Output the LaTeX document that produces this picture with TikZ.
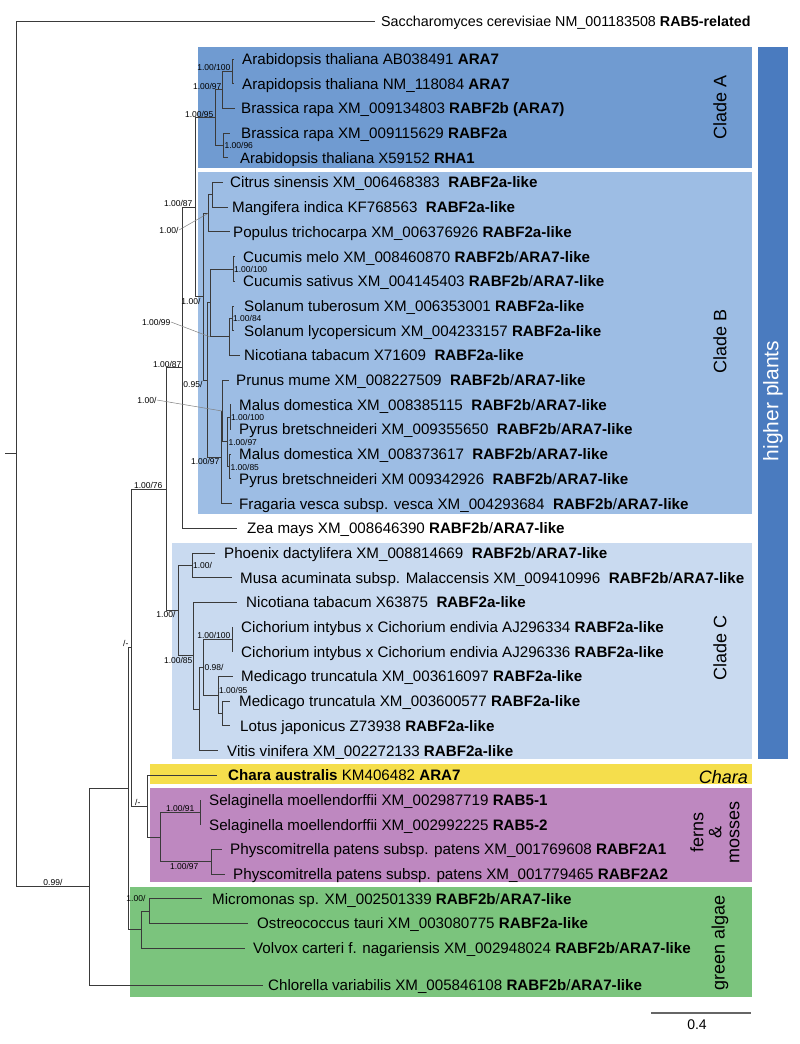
\documentclass[tikz,border=0pt]{standalone}
\usepackage{fontspec}
\setmainfont{Liberation Sans}
\usetikzlibrary{calc}
\definecolor{cA}{HTML}{709BD1}
\definecolor{cB}{HTML}{9DBDE4}
\definecolor{cC}{HTML}{C9DAF0}
\definecolor{cHP}{HTML}{4A7BBF}
\definecolor{cChara}{HTML}{F5DE4C}
\definecolor{cFern}{HTML}{BE88C0}
\definecolor{cGreen}{HTML}{7BC47D}
\definecolor{treec}{HTML}{3A3A3A}
\newcommand\mkleaf[6][15.15]{%
  \coordinate (#2) at (#3,#5);
  \node[leaf, font=\fontsize{#1}{17}\selectfont] (#2L) at (#4,#5+5.4) {#6};}
\newcommand\dsp{\ \ }
\begin{document}
\begin{tikzpicture}[x=1pt,y=-1pt,
  tree/.style={draw=treec, line width=0.9pt},
  ptr/.style={draw=gray, line width=0.5pt},
  leaf/.style={anchor=base west, inner sep=0pt},
  sup/.style={inner sep=0.4pt, font=\fontsize{8.5}{10}\selectfont},
  clade/.style={font=\fontsize{18}{18}\selectfont, inner sep=0pt}]
\useasboundingbox (0,0) rectangle (800,1044);
\fill[white] (0,0) rectangle (800,1044);
% coloured boxes
\fill[cA] (198,47) rectangle (752,168);
\fill[cB] (198,172) rectangle (752,514);
\fill[cC] (172,543) rectangle (752,759);
\fill[cChara] (150,764) rectangle (752,784);
\fill[cFern] (150,788) rectangle (752,882);
\fill[cGreen] (130,887) rectangle (752,997);
\fill[cHP] (758,47) rectangle (788,759);
% clade labels
\node[clade, rotate=90] (lA) at (720,107) {Clade A};
\node[clade, rotate=90] (lB) at (720,341) {Clade B};
\node[clade, rotate=90] (lC) at (720,648) {Clade C};
\node[clade, rotate=90, text=white, font=\fontsize{21}{21}\selectfont] (lHP) at (773,401) {higher plants};
\node[clade, anchor=base east, font=\fontsize{18}{18}\selectfont\itshape] (lCh) at (748,783.5) {Chara};
\node[clade, rotate=90, align=center] (lF) at (715,832) {ferns\\\&\\mosses};
\node[clade, rotate=90] (lG) at (720,943) {green algae};
% leaves
\mkleaf[14.3]{tSac}{375}{381}{21}{Saccharomyces cerevisiae NM\_001183508 \textbf{RAB5-related}}
\mkleaf{tAB}{234}{242}{59}{Arabidopsis thaliana AB038491 \textbf{ARA7}}
\mkleaf{tNM}{234}{242}{83.7}{Arapidopsis thaliana NM\_118084 \textbf{ARA7}}
\mkleaf{tBr1}{235}{241}{108.4}{Brassica rapa XM\_009134803 \textbf{RABF2b (ARA7)}}
\mkleaf{tBr2}{230}{241}{133.1}{Brassica rapa XM\_009115629 \textbf{RABF2a}}
\mkleaf[14.9]{tX59}{228}{240}{157.8}{Arabidopsis thaliana X59152 \textbf{RHA1}}
\mkleaf{tCit}{223}{230}{182.5}{Citrus sinensis XM\_006468383\dsp\textbf{RABF2a-like}}
\mkleaf{tMan}{228}{232}{207.2}{Mangifera indica KF768563\dsp\textbf{RABF2a-like}}
\mkleaf{tPop}{230}{233}{231.9}{Populus trichocarpa XM\_006376926 \textbf{RABF2a-like}}
\mkleaf{tCme}{235}{243}{256.6}{Cucumis melo XM\_008460870 \textbf{RABF2b}/\textbf{ARA7-like}}
\mkleaf{tCsa}{235}{243}{281.3}{Cucumis sativus XM\_004145403 \textbf{RABF2b}/\textbf{ARA7-like}}
\mkleaf{tStu}{234}{244}{306.0}{Solanum tuberosum XM\_006353001 \textbf{RABF2a-like}}
\mkleaf{tSly}{234}{244}{330.7}{Solanum lycopersicum XM\_004233157 \textbf{RABF2a-like}}
\mkleaf{tNiA}{240}{244}{355.4}{Nicotiana tabacum X71609\dsp\textbf{RABF2a-like}}
\mkleaf{tPru}{229}{236}{380.1}{Prunus mume XM\_008227509\dsp\textbf{RABF2b}/\textbf{ARA7-like}}
\mkleaf{tMaA}{231}{239}{404.8}{Malus domestica XM\_008385115\dsp\textbf{RABF2b}/\textbf{ARA7-like}}
\mkleaf{tPyA}{231}{239}{429.5}{Pyrus bretschneideri XM\_009355650\dsp\textbf{RABF2b}/\textbf{ARA7-like}}
\mkleaf{tMaB}{231}{239}{454.2}{Malus domestica XM\_008373617\dsp\textbf{RABF2b}/\textbf{ARA7-like}}
\mkleaf{tPyB}{231}{239}{478.9}{Pyrus bretschneideri XM 009342926\dsp\textbf{RABF2b}/\textbf{ARA7-like}}
\mkleaf{tFra}{232}{239}{503.6}{Fragaria vesca subsp. vesca XM\_004293684\dsp\textbf{RABF2b}/\textbf{ARA7-like}}
\mkleaf{tZea}{237}{247}{528.3}{Zea mays XM\_008646390 \textbf{RABF2b}/\textbf{ARA7-like}}
\mkleaf{tPho}{215}{224}{553.0}{Phoenix dactylifera XM\_008814669\dsp\textbf{RABF2b}/\textbf{ARA7-like}}
\mkleaf{tMus}{232}{240}{577.7}{Musa acuminata subsp. Malaccensis XM\_009410996\dsp\textbf{RABF2b}/\textbf{ARA7-like}}
\mkleaf{tNiB}{237}{246}{602.4}{Nicotiana tabacum X63875\dsp\textbf{RABF2a-like}}
\mkleaf{tCiA}{233}{241}{627.1}{Cichorium intybus x Cichorium endivia AJ296334 \textbf{RABF2a-like}}
\mkleaf{tCiB}{233}{241}{651.8}{Cichorium intybus x Cichorium endivia AJ296336 \textbf{RABF2a-like}}
\mkleaf{tMeA}{233}{241}{676.5}{Medicago truncatula XM\_003616097 \textbf{RABF2a-like}}
\mkleaf{tMeB}{230}{239}{701.2}{Medicago truncatula XM\_003600577 \textbf{RABF2a-like}}
\mkleaf{tLot}{230}{240}{725.9}{Lotus japonicus Z73938 \textbf{RABF2a-like}}
\mkleaf{tVit}{218}{227}{750.6}{Vitis vinifera XM\_002272133 \textbf{RABF2a-like}}
\mkleaf{tCha}{217}{228}{775.3}{\textbf{Chara australis} KM406482 \textbf{ARA7}}
\mkleaf{tSeA}{201}{209}{800.0}{Selaginella moellendorffii XM\_002987719 \textbf{RAB5-1}}
\mkleaf{tSeB}{201}{209}{824.7}{Selaginella moellendorffii XM\_002992225 \textbf{RAB5-2}}
\mkleaf[15.25]{tPhA}{222}{230}{849.4}{Physcomitrella patens subsp. patens XM\_001769608 \textbf{RABF2A1}}
\mkleaf[15.2]{tPhB}{225}{233}{874.1}{Physcomitrella patens subsp. patens XM\_001779465 \textbf{RABF2A2}}
\mkleaf{tMic}{202}{212}{898.8}{Micromonas sp. XM\_002501339 \textbf{RABF2b}/\textbf{ARA7-like}}
\mkleaf{tOst}{248}{257}{923.5}{Ostreococcus tauri XM\_003080775 \textbf{RABF2a-like}}
\mkleaf{tVol}{245}{253}{948.2}{Volvox carteri f. nagariensis XM\_002948024 \textbf{RABF2b}/\textbf{ARA7-like}}
\mkleaf{tChl}{263}{268}{985}{Chlorella variabilis XM\_005846108 \textbf{RABF2b}/\textbf{ARA7-like}}
% internal nodes
\coordinate (stem) at (5,453.9);
\coordinate (root) at (16,453.9);
\coordinate (R) at (89,886.85);
\coordinate (Q) at (128,788.7);
\coordinate (P) at (131,647.65);
\coordinate (ABC) at (166,489.15);
\coordinate (ABZ) at (182,367.8);
\coordinate (AB) at (195,207.25);
\coordinate (A) at (215,117.7);
\coordinate (a2) at (222,89.9);
\coordinate (a1) at (232,71.35);
\coordinate (a3) at (223,145.45);
\coordinate (B) at (203,296.8);
\coordinate (CMP) at (208,213.4);
\coordinate (CM) at (212,194.85);
\coordinate (N095) at (207,380.2);
\coordinate (CS) at (210,302.9);
\coordinate (Cuc) at (233,268.95);
\coordinate (SN) at (229,336.9);
\coordinate (Sol) at (232,318.35);
\coordinate (R2) at (221,457.3);
\coordinate (R1) at (222,411);
\coordinate (MP) at (227,441.85);
\coordinate (MP1) at (230,417.15);
\coordinate (MP2) at (229,466.55);
\coordinate (C) at (178,610.5);
\coordinate (PM) at (192,565.35);
\coordinate (C2) at (193,655.7);
\coordinate (C3) at (199,709);
\coordinate (CM2) at (203,667.4);
\coordinate (Cich) at (232,639.45);
\coordinate (Med) at (218,695);
\coordinate (Med23) at (222,713.55);
\coordinate (F0) at (147,806.2);
\coordinate (F1) at (160,837.05);
\coordinate (S) at (200,812.35);
\coordinate (Ph) at (211,861.75);
\coordinate (G2) at (141,929.7);
\coordinate (G1) at (149,911.15);
% branches
\draw[tree] (stem) -- (root);
\foreach \p/\c in {root/tSac, root/R, R/Q, R/tChl, Q/P, Q/G2, P/ABC, P/F0,
  ABC/ABZ, ABC/C, ABZ/AB, ABZ/tZea, AB/A, AB/B,
  A/a2, A/a3, a2/a1, a2/tBr1, a1/tAB, a1/tNM, a3/tBr2, a3/tX59,
  B/CMP, B/N095, CMP/CM, CMP/tPop, CM/tCit, CM/tMan,
  N095/CS, N095/R2, CS/Cuc, CS/SN, Cuc/tCme, Cuc/tCsa, SN/Sol, SN/tNiA, Sol/tStu, Sol/tSly,
  R2/R1, R2/tFra, R1/tPru, R1/MP, MP/MP1, MP/MP2, MP1/tMaA, MP1/tPyA, MP2/tMaB, MP2/tPyB,
  C/PM, C/C2, PM/tPho, PM/tMus, C2/tNiB, C2/C3, C3/CM2, C3/tVit, CM2/Cich, CM2/Med,
  Cich/tCiA, Cich/tCiB, Med/tMeA, Med/Med23, Med23/tMeB, Med23/tLot,
  F0/tCha, F0/F1, F1/S, F1/Ph, S/tSeA, S/tSeB, Ph/tPhA, Ph/tPhB,
  G2/G1, G2/tVol, G1/tMic, G1/tOst}
  {\draw[tree] (\p) |- (\c);}
% support values
\node[sup, anchor=south east] (sa1) at ($(a1)+(-1,0)$) {1.00/100};
\node[sup, anchor=south east] (sa2) at ($(a2)+(0,0)$) {1.00/97};
\node[sup, anchor=south east] (sA) at ($(A)+(-1,0)$) {1.00/95};
\node[sup, anchor=west] (sa3) at ($(a3)+(1,0.5)$) {1.00/96};
\node[sup, anchor=south east] (sAB) at ($(AB)+(-2,0)$) {1.00/87};
\node[sup, anchor=east] (sCMP) at (179,230) {1.00/};
\draw[ptr] (sCMP.east) -- (CMP);
\node[sup, anchor=north east] (sB) at ($(B)+(-2,0.7)$) {1.00/};
\node[sup, anchor=east] (sSN) at (171,322) {1.00/99};
\draw[ptr] (sSN.east) -- (CS |- SN);
\node[sup, anchor=west] (sCuc) at ($(Cuc)+(0.5,1)$) {1.00/100};
\node[sup, anchor=west] (sSol) at ($(Sol)+(0.5,0.6)$) {1.00/84};
\node[sup, anchor=north east] (sN095) at ($(N095)+(-4,0.8)$) {0.95/};
\node[sup, anchor=east] (sR1) at (157,400) {1.00/};
\draw[ptr] (sR1.east) -- (R1);
\node[sup, anchor=west] (sMP1) at ($(MP1)+(0.5,0)$) {1.00/100};
\node[sup, anchor=west] (sMP) at ($(MP)+(1,1)$) {1.00/97};
\node[sup, anchor=west] (sMP2) at ($(MP2)+(1,0.5)$) {1.00/85};
\node[sup, anchor=north east] (sR2) at ($(R2)+(-1,0.7)$) {1.00/97};
\node[sup, anchor=south east] (sABZ) at ($(ABZ)+(0,0)$) {1.00/87};
\node[sup, anchor=south east] (sABC) at ($(ABC)+(-3,0)$) {1.00/76};
\node[sup, anchor=north east] (sC) at ($(C)+(-2,0.5)$) {1.00/};
\node[sup, anchor=west] (sPM) at ($(PM)+(0.5,0.6)$) {1.00/};
\node[sup, anchor=north east] (sC2) at ($(C2)+(0,0.8)$) {1.00/85};
\node[sup, anchor=south east] (sCich) at ($(Cich)+(-1,0)$) {1.00/100};
\node[sup, anchor=west] (sCM2) at ($(CM2)+(1,0)$) {0.98/};
\node[sup, anchor=west] (sMed) at ($(Med)+(0.5,-5)$) {1.00/95};
\node[sup, anchor=east] (sP) at ($(P)+(-2,-4)$) {/-};
\node[sup, anchor=south east] (sF0) at ($(F0)+(-6,0)$) {/-};
\node[sup, anchor=south east] (sS) at ($(S)+(-5,-0.5)$) {1.00/91};
\node[sup, anchor=north east] (sPh) at ($(Ph)+(-12,1)$) {1.00/97};
\node[sup, anchor=east] (sG1) at ($(G1)+(-3,-13)$) {1.00/};
\node[sup, anchor=south east] (sR) at (63,886) {0.99/};
% scale bar
\coordinate (sb1) at (651,1013);
\coordinate (sb2) at (751,1013);
\draw[draw=gray!80!black, line width=1.2pt] (sb1) -- (sb2);
\node[font=\fontsize{14}{16}\selectfont, inner sep=0pt] (sbl) at (697,1025) {0.4};
\end{tikzpicture}
\end{document}
